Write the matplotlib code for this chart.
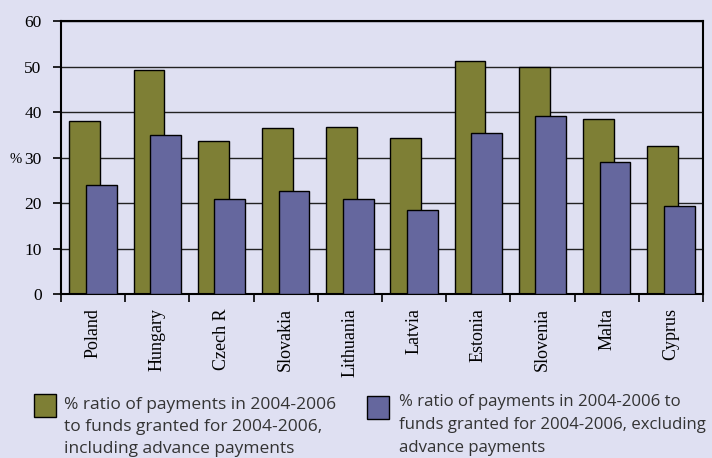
import numpy as np
import matplotlib.pyplot as plt

countries = ["Poland", "Hungary", "Czech R", "Slovakia", "Lithuania",
             "Latvia", "Estonia", "Slovenia", "Malta", "Cyprus"]
incl_advance = [38.1, 49.2, 33.6, 36.4, 36.8, 34.4, 51.3, 50.0, 38.5, 32.6]
excl_advance = [24.0, 35.0, 20.8, 22.6, 20.8, 18.4, 35.3, 39.2, 29.1, 19.4]
yticks = [0, 10, 20, 30, 40, 50, 60]

label_incl = "% ratio of payments in 2004-2006\nto funds granted for 2004-2006,\nincluding advance payments"
label_excl = "% ratio of payments in 2004-2006 to\nfunds granted for 2004-2006, excluding\nadvance payments"

bg = "#dfe0f2"
olive = "#7e7f35"
blue = "#65679e"
serif = "Liberation Serif"

fig = plt.figure(figsize=(7.12, 4.58), dpi=100, facecolor=bg)
ax = fig.add_axes([0.0857, 0.358, 0.9017, 0.596], facecolor=bg)

x = np.arange(len(countries))
w = 0.48
ax.set_axisbelow(True)
ax.bar(x - 0.13, incl_advance, w, color=olive, edgecolor="black", linewidth=1.0, zorder=2)
ax.bar(x + 0.13, excl_advance, w, color=blue, edgecolor="black", linewidth=1.0, zorder=3)

ax.set_xlim(-0.5, len(countries) - 0.5)
ax.set_ylim(0, 60)
ax.set_yticks(yticks)
ax.yaxis.grid(True, color="#222222", linewidth=1.0)

# ticks sit on the group boundaries, labels at the group centres
ax.set_xticks(np.arange(-0.5, len(countries)), minor=False)
ax.set_xticklabels([])
ax.set_xticks(x, minor=True)
ax.set_xticklabels(countries, minor=True, rotation=90, family=serif, fontsize=13)
ax.tick_params(axis="x", which="minor", length=0, pad=10)
ax.tick_params(axis="x", which="major", direction="out", length=6, width=1.2)
ax.tick_params(axis="y", direction="out", length=6, width=1.2, pad=8)
for lab in ax.get_yticklabels():
    lab.set_family(serif)
    lab.set_fontsize(12.5)

for side in ["left", "bottom", "right", "top"]:
    ax.spines[side].set_linewidth(1.5)
    ax.spines[side].set_color("black")

fig.text(0.013, 0.652, "%", family=serif, fontsize=10.5, va="center")

# legend drawn by hand: coloured squares with wrapped captions
fig.patches.append(plt.Rectangle((0.048, 0.090), 0.031, 0.050, transform=fig.transFigure,
                                 facecolor=olive, edgecolor="black", linewidth=1.0))
fig.patches.append(plt.Rectangle((0.515, 0.085), 0.032, 0.050, transform=fig.transFigure,
                                 facecolor=blue, edgecolor="black", linewidth=1.0))
fig.text(0.090, 0.133, label_incl, family="Open Sans", fontsize=12.5, color="#333333",
         va="top", linespacing=1.5)
fig.text(0.561, 0.139, label_excl, family="Open Sans", fontsize=12.1, color="#333333",
         va="top", linespacing=1.55)

fig.savefig("out.png", dpi=100, facecolor=bg)
